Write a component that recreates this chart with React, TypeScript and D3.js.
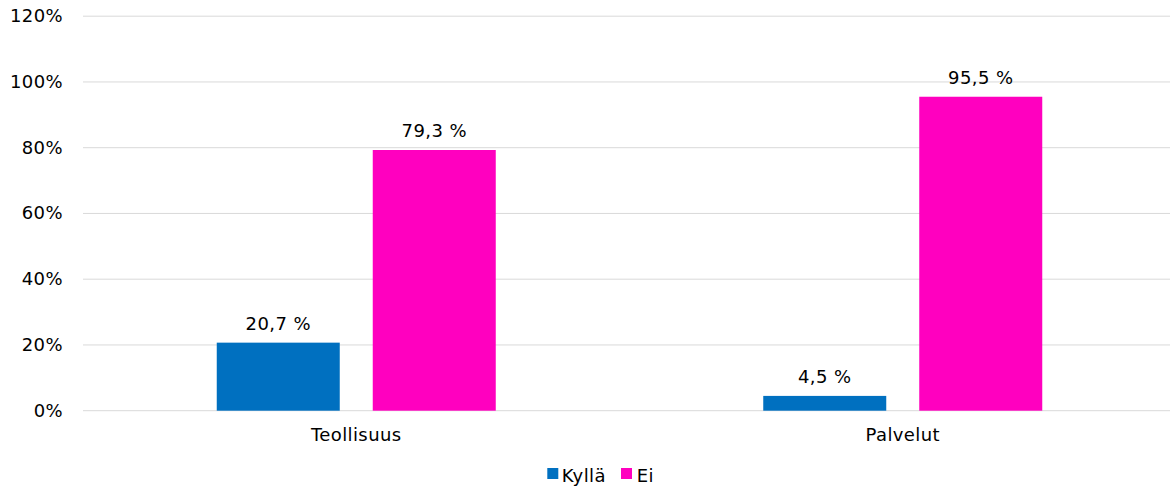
import React from "react";
import * as d3 from "d3";

const categories = ["Teollisuus", "Palvelut"];
const seriesNames = ["Kyllä", "Ei"];
const kyllaValues = [20.7, 4.5];
const eiValues = [79.3, 95.5];
const yTicks = [0, 20, 40, 60, 80, 100, 120];
const colors = ["#0070C0", "#FF00BF"];

const W = 1170;
const H = 489;
const FONT = "'DejaVu Sans', Verdana, sans-serif";
const FS = 18;
const LS = 0.4;

export default function App() {
  const y = d3.scaleLinear().domain([0, 120]).range([410.7, 16.2]);
  const x0 = d3.scaleBand<string>().domain(categories).range([83, 1176]).padding(0);
  const groupW = 279;
  const x1 = d3.scaleBand<string>().domain(seriesNames).range([0, groupW]).paddingInner(33 / 156).paddingOuter(0);
  const seriesValues = [kyllaValues, eiValues];
  const fmt = (v: number) => v.toFixed(1).replace(".", ",") + " %";

  return (
    <svg width={W} height={H} style={{ position: "absolute", left: 0, top: 0, background: "#fff" }} fontFamily={FONT} letterSpacing={LS}>
      <rect x={0} y={0} width={W} height={H} fill="#fff" />
      {yTicks.map((t) => (
        <g key={t}>
          <line x1={83} x2={W} y1={y(t)} y2={y(t)} stroke="#D9D9D9" strokeWidth={1} />
          <text x={63} y={y(t) + 6} textAnchor="end" fontSize={FS} fill="#000">
            {t}%
          </text>
        </g>
      ))}
      {categories.map((c, ci) => {
        const center = (x0(c) as number) + x0.bandwidth() / 2;
        const gx = center - groupW / 2;
        return (
          <g key={c}>
            {seriesNames.map((s, si) => {
              const v = seriesValues[si][ci];
              const bx = gx + (x1(s) as number);
              return (
                <g key={s}>
                  <rect x={bx} y={y(v)} width={x1.bandwidth()} height={y(0) - y(v)} fill={colors[si]} />
                  <text x={bx + x1.bandwidth() / 2} y={y(v) - 12.7} textAnchor="middle" fontSize={FS} fill="#000">
                    {fmt(v)}
                  </text>
                </g>
              );
            })}
            <text x={center} y={440.7} textAnchor="middle" fontSize={FS} fill="#000">
              {c}
            </text>
          </g>
        );
      })}
      <g>
        <rect x={547.3} y={468} width={11} height={11} fill={colors[0]} />
        <text x={561.7} y={481.7} fontSize={FS} fill="#000">{seriesNames[0]}</text>
        <rect x={621} y={468} width={11} height={11} fill={colors[1]} />
        <text x={636.7} y={481.7} fontSize={FS} fill="#000">{seriesNames[1]}</text>
      </g>
    </svg>
  );
}
